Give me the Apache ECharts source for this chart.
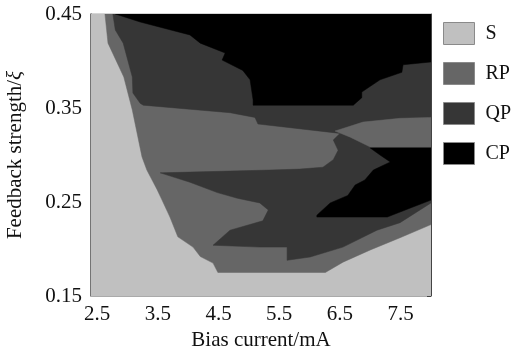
<!DOCTYPE html>
<html>
<head>
<meta charset="utf-8">
<script src="https://cdn.jsdelivr.net/npm/echarts@6/dist/echarts.min.js"></script>
<style>
  html, body {margin: 0; padding: 0; background: #fff;}
  #chart {width: 512px; height: 354px;}
</style>
</head>
<body>
<div id="chart"></div>
<script>
// axis ranges and tick labels
const xRange = [2.4, 8.0];
const yRange = [0.15, 0.45];
const xTicks = [2.5, 3.5, 4.5, 5.5, 6.5, 7.5];
const yTicks = [0.15, 0.25, 0.35, 0.45];

// region boundaries, [bias current, feedback strength]
// everything that is not S (filled as RP, later layers paint over it)
const rpRegion = [
  [2.63, 0.45], [8.0, 0.45], [8.0, 0.226], [7.49, 0.212], [7.0, 0.199],
  [6.55, 0.186], [6.26, 0.175], [4.49, 0.175], [4.41, 0.185], [4.20, 0.192],
  [4.08, 0.202], [3.83, 0.213], [3.70, 0.234], [3.57, 0.252], [3.49, 0.263],
  [3.32, 0.284], [3.24, 0.298], [3.08, 0.348], [2.94, 0.383], [2.68, 0.419]
];
const qpRegion = [
  [2.76, 0.45], [8.0, 0.45], [8.0, 0.249], [7.49, 0.228], [7.11, 0.220],
  [6.55, 0.202], [6.01, 0.1915], [5.63, 0.188], [5.63, 0.202], [5.18, 0.202],
  [4.41, 0.204], [4.69, 0.220], [5.23, 0.230], [5.32, 0.2415], [5.18, 0.249],
  [4.81, 0.254], [4.48, 0.260], [4.03, 0.271], [3.54, 0.281], [5.35, 0.284],
  [5.84, 0.285], [6.22, 0.287], [6.39, 0.295], [6.47, 0.305], [6.39, 0.316],
  [6.50, 0.323], [5.15, 0.333], [5.10, 0.340], [4.69, 0.345], [3.26, 0.353],
  [3.21, 0.355], [3.09, 0.366], [3.08, 0.383], [2.93, 0.419], [2.80, 0.433]
];
const rpTongue = [
  [6.42, 0.3255], [6.88, 0.335], [7.49, 0.339], [8.0, 0.340],
  [8.0, 0.3085], [7.0, 0.3085], [6.67, 0.319]
];
const cpUpper = [
  [2.80, 0.45], [8.0, 0.45], [8.0, 0.399], [7.54, 0.396], [7.52, 0.388],
  [7.16, 0.380], [6.86, 0.367], [6.86, 0.361], [6.72, 0.353], [5.07, 0.353],
  [5.07, 0.3585], [5.02, 0.380], [4.90, 0.390], [4.56, 0.401], [4.61, 0.4085],
  [4.20, 0.419], [4.03, 0.4277], [3.21, 0.4415]
];
const cpLower = [
  [7.0, 0.3074], [8.0, 0.3074], [8.0, 0.252], [7.66, 0.2436], [7.28, 0.234],
  [6.12, 0.234], [6.12, 0.236], [6.34, 0.249], [6.63, 0.257], [6.75, 0.268],
  [6.91, 0.2734], [7.05, 0.284], [7.33, 0.2926], [7.16, 0.300]
];
const sRegion = [
  [xRange[0], yRange[0]], [xRange[1], yRange[0]],
  [xRange[1], yRange[1]], [xRange[0], yRange[1]]
];

const colors = {S: '#c0c0c0', RP: '#666666', QP: '#363636', CP: '#000000'};
const serif = 'Liberation Serif';

function regionSeries(name, polys) {
  return {
    name: name,
    type: 'custom',
    silent: true,
    clip: true,
    itemStyle: {color: colors[name]},
    data: polys[0],
    renderItem(params, api) {
      if (params.dataIndex !== 0) return;
      return {
        type: 'group',
        children: polys.map(p => ({
          type: 'polygon',
          shape: {points: p.map(pt => api.coord(pt))},
          style: {fill: colors[name], stroke: colors[name], lineWidth: 0.5}
        }))
      };
    }
  };
}

const chart = echarts.init(document.getElementById('chart'));
chart.setOption({
  animation: false,
  textStyle: {fontFamily: serif},
  grid: {
    left: 91, top: 14, width: 340, height: 282,
    outerBoundsMode: 'none', containLabel: false,
    show: true, borderColor: '#aaa', borderWidth: 1
  },
  legend: {
    orient: 'vertical',
    left: 438,
    top: 17,
    itemWidth: 31,
    itemHeight: 22,
    itemGap: 17,
    icon: 'rect',
    selectedMode: false,
    textStyle: {fontSize: 20, fontFamily: serif, color: '#111', padding: [0, 0, 0, 6]},
    data: ['S', 'RP', 'QP', 'CP'].map(n => ({
      name: n,
      itemStyle: {color: colors[n], borderColor: '#8a8a8a', borderWidth: 1}
    }))
  },
  xAxis: {
    type: 'value',
    min: xRange[0],
    max: xRange[1],
    name: 'Bias current/mA',
    nameLocation: 'middle',
    nameGap: 34,
    nameTextStyle: {fontSize: 21, fontFamily: serif, color: '#111'},
    splitLine: {show: false},
    axisLine: {show: true, lineStyle: {color: '#aaa'}},
    axisTick: {show: false},
    axisLabel: {customValues: xTicks, fontSize: 21, color: '#111', margin: 8, formatter: v => v.toFixed(1)}
  },
  yAxis: [{
    type: 'value',
    min: yRange[0],
    max: yRange[1],
    name: '{a|Feedback strength/}{b|ξ}',
    nameLocation: 'middle',
    nameGap: 65,
    nameTextStyle: {
      fontSize: 21, fontFamily: serif, color: '#111',
      rich: {
        a: {fontSize: 21, fontFamily: serif, color: '#111'},
        b: {fontSize: 21, fontFamily: serif, color: '#111', fontStyle: 'italic'}
      }
    },
    splitLine: {show: false},
    axisLine: {show: true, lineStyle: {color: '#555', width: 1.5}},
    axisTick: {show: false},
    axisLabel: {customValues: yTicks, fontSize: 21, color: '#111', margin: 9, formatter: v => v.toFixed(2)}
  }, {
    type: 'value',
    position: 'right',
    min: yRange[0],
    max: yRange[1],
    interval: 0.05,
    splitLine: {show: false},
    axisLine: {show: true, lineStyle: {color: '#444'}},
    axisTick: {show: true, inside: true, length: 4, lineStyle: {color: '#444'}},
    axisLabel: {show: false}
  }],
  series: [
    regionSeries('S', [sRegion]),
    regionSeries('RP', [rpRegion]),
    regionSeries('QP', [qpRegion]),
    regionSeries('RP', [rpTongue]),
    regionSeries('CP', [cpUpper, cpLower])
  ]
});
</script>
</body>
</html>
